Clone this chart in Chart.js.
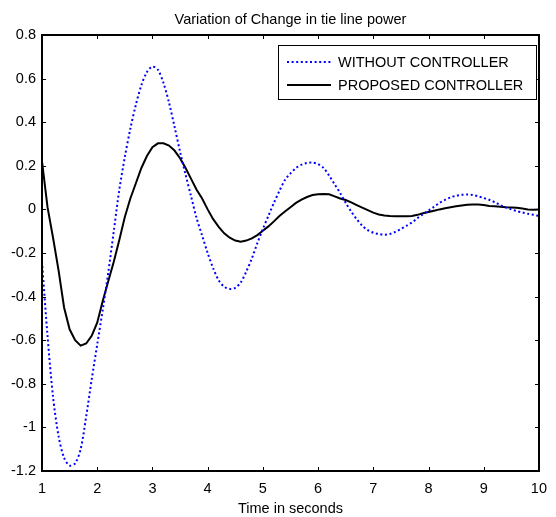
<!DOCTYPE html>
<html>
<head>
<meta charset="utf-8">
<script src="https://cdn.jsdelivr.net/npm/chart.js@4.4.1/dist/chart.umd.min.js"></script>
<style>
html,body{margin:0;padding:0;background:#fff;}
#wrap{width:556px;height:517px;position:relative;}
</style>
</head>
<body>
<div id="wrap"><canvas id="c" width="556" height="517"></canvas></div>
<script>
const chartTitle = "Variation of Change in tie line power";
const xAxisTitle = "Time in seconds";
const seriesNames = ["WITHOUT CONTROLLER", "PROPOSED CONTROLLER"];

const time = [1.0,1.1,1.2,1.3,1.4,1.5,1.6,1.7,1.8,1.9,
  2.0,2.1,2.2,2.3,2.4,2.5,2.6,2.7,2.8,2.9,
  3.0,3.1,3.2,3.3,3.4,3.5,3.6,3.7,3.8,3.9,
  4.0,4.1,4.2,4.3,4.4,4.5,4.6,4.7,4.8,4.9,
  5.0,5.1,5.2,5.3,5.4,5.5,5.6,5.7,5.8,5.9,
  6.0,6.1,6.2,6.3,6.4,6.5,6.6,6.7,6.8,6.9,
  7.0,7.1,7.2,7.3,7.4,7.5,7.6,7.7,7.8,7.9,
  8.0,8.1,8.2,8.3,8.4,8.5,8.6,8.7,8.8,8.9,
  9.0,9.1,9.2,9.3,9.4,9.5,9.6,9.7,9.8,9.9,10.0];

const withoutController = [-0.24,-0.58,-0.86,-1.04,-1.14,-1.175,-1.165,-1.10,-0.95,-0.78,
  -0.62,-0.46,-0.29,-0.10,0.09,0.24,0.37,0.48,0.57,0.63,
  0.655,0.64,0.58,0.49,0.38,0.265,0.16,0.06,-0.04,-0.12,
  -0.20,-0.27,-0.325,-0.355,-0.365,-0.36,-0.335,-0.285,-0.225,-0.155,
  -0.09,-0.03,0.03,0.085,0.135,0.165,0.19,0.205,0.213,0.215,
  0.208,0.19,0.155,0.115,0.075,0.03,-0.01,-0.045,-0.075,-0.095,
  -0.107,-0.113,-0.116,-0.113,-0.103,-0.09,-0.075,-0.06,-0.04,-0.022,
  -0.006,0.012,0.03,0.044,0.055,0.063,0.067,0.068,0.066,0.06,
  0.052,0.044,0.033,0.02,0.009,0.0,-0.008,-0.014,-0.02,-0.025,-0.03];

const proposedController = [0.22,0.01,-0.13,-0.28,-0.45,-0.55,-0.60,-0.625,-0.615,-0.58,
  -0.52,-0.42,-0.33,-0.24,-0.14,-0.035,0.05,0.12,0.19,0.245,
  0.285,0.303,0.303,0.293,0.27,0.235,0.19,0.14,0.09,0.05,
  0.0,-0.045,-0.08,-0.11,-0.13,-0.143,-0.148,-0.143,-0.133,-0.118,
  -0.098,-0.078,-0.055,-0.03,-0.01,0.01,0.03,0.045,0.057,0.066,
  0.07,0.071,0.069,0.06,0.05,0.043,0.032,0.02,0.008,-0.003,
  -0.015,-0.023,-0.028,-0.03,-0.031,-0.031,-0.031,-0.03,-0.025,-0.018,
  -0.012,-0.006,0.0,0.005,0.01,0.014,0.018,0.021,0.023,0.023,
  0.02,0.016,0.014,0.012,0.01,0.009,0.008,0.004,0.0,-0.002,0.0];

const xTickLabels = ["1","2","3","4","5","6","7","8","9","10"];
const yTickLabels = ["-1.2","-1","-0.8","-0.6","-0.4","-0.2","0","0.2","0.4","0.6","0.8"];

const FONT = "'Liberation Sans', Arial, Helvetica, sans-serif";

function toPoints(xs, ys){ return xs.map((x,i)=>({x:x, y:ys[i]})); }

const framePlugin = {
  id: 'frame',
  afterDraw(chart){
    const ctx = chart.ctx;
    const a = chart.chartArea;
    const xs = chart.scales.x, ys = chart.scales.y;
    ctx.save();
    // box
    ctx.strokeStyle = '#000';
    ctx.lineWidth = 2;
    const L = Math.round(a.left), R = Math.round(a.right), T = Math.round(a.top), B = Math.round(a.bottom);
    ctx.strokeRect(L, T, R-L, B-T);
    // inward ticks
    const tl = 4;
    ctx.lineWidth = 1;
    ctx.beginPath();
    xTickLabels.forEach(l=>{
      const px = Math.round(xs.getPixelForValue(parseFloat(l)))+0.5;
      ctx.moveTo(px, B); ctx.lineTo(px, B-tl);
      ctx.moveTo(px, T); ctx.lineTo(px, T+tl);
    });
    yTickLabels.forEach(l=>{
      const py = Math.round(ys.getPixelForValue(parseFloat(l)))+0.5;
      ctx.moveTo(L, py); ctx.lineTo(L+tl, py);
      ctx.moveTo(R, py); ctx.lineTo(R-tl, py);
    });
    ctx.stroke();
    // title
    ctx.fillStyle = '#000';
    ctx.font = '14.5px ' + FONT;
    ctx.textAlign = 'center';
    ctx.textBaseline = 'alphabetic';
    ctx.fillText(chartTitle, (a.left+a.right)/2, 24);
    ctx.fillText(xAxisTitle, (a.left+a.right)/2, 513);
    // legend
    const bx = 278.5, by = 45.5, bw = 258, bh = 54;
    ctx.fillStyle = '#fff';
    ctx.fillRect(bx, by, bw, bh);
    ctx.strokeStyle = '#000';
    ctx.lineWidth = 1;
    ctx.strokeRect(bx, by, bw, bh);
    const rows = [62, 85];
    chart.data.datasets.forEach((ds, i)=>{
      ctx.beginPath();
      ctx.strokeStyle = ds.borderColor;
      ctx.lineWidth = ds.borderWidth;
      ctx.setLineDash(ds.borderDash || []);
      ctx.lineCap = 'butt';
      ctx.moveTo(287, rows[i]);
      ctx.lineTo(331, rows[i]);
      ctx.stroke();
      ctx.setLineDash([]);
      ctx.fillStyle = '#000';
      ctx.font = '14.5px ' + FONT;
      ctx.textAlign = 'left';
      ctx.textBaseline = 'middle';
      ctx.fillText(ds.label, 338, rows[i]+1);
    });
    ctx.restore();
  }
};

new Chart(document.getElementById('c'), {
  type: 'line',
  data: {
    datasets: [
      {
        label: seriesNames[0],
        data: toPoints(time, withoutController),
        borderColor: '#0000ff',
        borderWidth: 2,
        borderDash: [2, 2.6],
        pointRadius: 0,
        tension: 0.3,
        fill: false
      },
      {
        label: seriesNames[1],
        data: toPoints(time, proposedController),
        borderColor: '#000000',
        borderWidth: 2,
        pointRadius: 0,
        tension: 0,
        fill: false
      }
    ]
  },
  options: {
    responsive: false,
    animation: false,
    devicePixelRatio: 1,
    layout: { padding: { left: 0, right: 16, top: 35, bottom: 0 } },
    plugins: {
      legend: { display: false },
      title: { display: false },
      tooltip: { enabled: false }
    },
    scales: {
      x: {
        type: 'linear',
        min: 1, max: 10,
        afterFit(s){ s.height = 46; },
        afterBuildTicks(s){ s.ticks = xTickLabels.map(v=>({value: parseFloat(v)})); },
        grid: { display: false, drawTicks: false },
        border: { display: false },
        ticks: {
          padding: 9,
          color: '#000',
          font: { family: FONT, size: 14.5 },
          maxRotation: 0,
          autoSkip: false,
          callback: (v)=>{ const i = xTickLabels.findIndex(l=>parseFloat(l)===v); return i>=0 ? xTickLabels[i] : ''; }
        }
      },
      y: {
        type: 'linear',
        min: -1.2, max: 0.8,
        afterFit(s){ s.width = 42; },
        afterBuildTicks(s){ s.ticks = yTickLabels.map(v=>({value: parseFloat(v)})); },
        grid: { display: false, drawTicks: false },
        border: { display: false },
        ticks: {
          padding: 6,
          color: '#000',
          font: { family: FONT, size: 14.5 },
          autoSkip: false,
          callback: (v)=>{ const i = yTickLabels.findIndex(l=>Math.abs(parseFloat(l)-v)<1e-9); return i>=0 ? yTickLabels[i] : ''; }
        }
      }
    }
  },
  plugins: [framePlugin]
});
</script>
</body>
</html>
